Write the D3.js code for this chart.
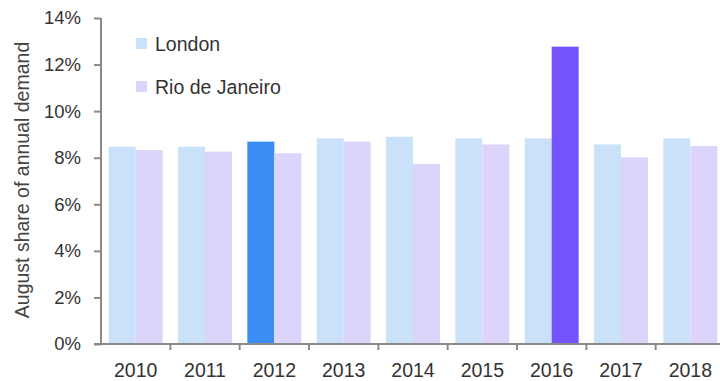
<!DOCTYPE html>
<html>
<head>
<meta charset="utf-8">
<script src="https://cdn.jsdelivr.net/npm/d3@7"></script>
<style>
  html, body { margin: 0; padding: 0; background: #fff; }
  svg { display: block; font-family: "Liberation Sans", Arial, sans-serif; }
</style>
</head>
<body>
<svg id="chart" width="720" height="381"></svg>
<script>
// August share of annual demand, by year
const years = ["2010", "2011", "2012", "2013", "2014", "2015", "2016", "2017", "2018"];
const seriesNames = ["London", "Rio de Janeiro"];
const londonValues = [0.0847, 0.0847, 0.0869, 0.0883, 0.0890, 0.0883, 0.0883, 0.0857, 0.0883];
const rioValues    = [0.0833, 0.0826, 0.0819, 0.0869, 0.0773, 0.0857, 0.1277, 0.0802, 0.0850];
const yTicks = [0, 0.02, 0.04, 0.06, 0.08, 0.10, 0.12, 0.14];
// Olympic host years are highlighted
const highlight = { London: "2012", "Rio de Janeiro": "2016" };

const baseColor = { London: "#c9e2fa", "Rio de Janeiro": "#ddd4fb" };
const strongColor = { London: "#3a8df3", "Rio de Janeiro": "#7553fd" };

const rows = years.map((yr, i) => ({ year: yr, London: londonValues[i], "Rio de Janeiro": rioValues[i] }));

const svg = d3.select("#chart");
const plotLeft = 101, plotRight = 725, plotTop = 18, plotBottom = 344;

const x = d3.scaleBand().domain(years).range([plotLeft, plotRight])
  .paddingInner(0.221).paddingOuter(0.1105);
const xs = d3.scaleBand().domain(seriesNames).range([0, x.bandwidth()]);
const y = d3.scaleLinear().domain([0, 0.14]).range([plotBottom, plotTop]);

// bars
const groups = svg.append("g").selectAll("g").data(rows).join("g")
  .attr("transform", d => `translate(${x(d.year)},0)`);
groups.selectAll("rect")
  .data(d => seriesNames.map(s => ({ s, year: d.year, v: d[s] })))
  .join("rect")
  .attr("x", d => xs(d.s))
  .attr("width", xs.bandwidth())
  .attr("y", d => y(d.v))
  .attr("height", d => y(0) - y(d.v))
  .attr("fill", d => highlight[d.s] === d.year ? strongColor[d.s] : baseColor[d.s]);

// y axis
const yAxis = svg.append("g").attr("transform", `translate(${plotLeft},0)`)
  .call(d3.axisLeft(y).tickValues(yTicks).tickFormat(d3.format(".0%")).tickSize(7).tickPadding(13));
yAxis.select(".domain").attr("stroke", "#8a8a8a").attr("stroke-width", 2)
  .attr("d", `M0,${plotTop}V${plotBottom}`);
yAxis.selectAll(".tick line").attr("stroke", "#8a8a8a").attr("stroke-width", 2);
yAxis.selectAll(".tick text").attr("fill", "#333").style("font-size", "18.5px")
  .style("font-family", "'Liberation Sans', Arial, sans-serif");

// x axis line and category boundary ticks
svg.append("line").attr("x1", plotLeft - 7).attr("x2", plotRight).attr("y1", plotBottom).attr("y2", plotBottom)
  .attr("stroke", "#8a8a8a").attr("stroke-width", 2);
svg.append("g").selectAll("line").data(years.slice(1)).join("line")
  .attr("x1", d => x(d) - x.step() * x.paddingInner() / 2)
  .attr("x2", d => x(d) - x.step() * x.paddingInner() / 2)
  .attr("y1", plotBottom).attr("y2", plotBottom + 6)
  .attr("stroke", "#8a8a8a").attr("stroke-width", 2);
svg.append("g").selectAll("text").data(years).join("text")
  .attr("x", d => x(d) + x.bandwidth() / 2)
  .attr("y", 377)
  .attr("text-anchor", "middle")
  .attr("fill", "#333")
  .style("font-size", "19.5px")
  .text(d => d);

// y axis title
svg.append("text")
  .attr("transform", "translate(29,180) rotate(-90)")
  .attr("text-anchor", "middle")
  .attr("fill", "#444")
  .style("font-size", "19.5px")
  .text("August share of annual demand");

// legend
const legend = svg.append("g").selectAll("g").data(seriesNames).join("g")
  .attr("transform", (d, i) => `translate(136,${38 + i * 43})`);
legend.append("rect").attr("width", 11).attr("height", 11).attr("fill", d => baseColor[d]);
legend.append("text").attr("x", 19).attr("y", 12.5).attr("fill", "#333")
  .style("font-size", "19.5px").text(d => d);
</script>
</body>
</html>
